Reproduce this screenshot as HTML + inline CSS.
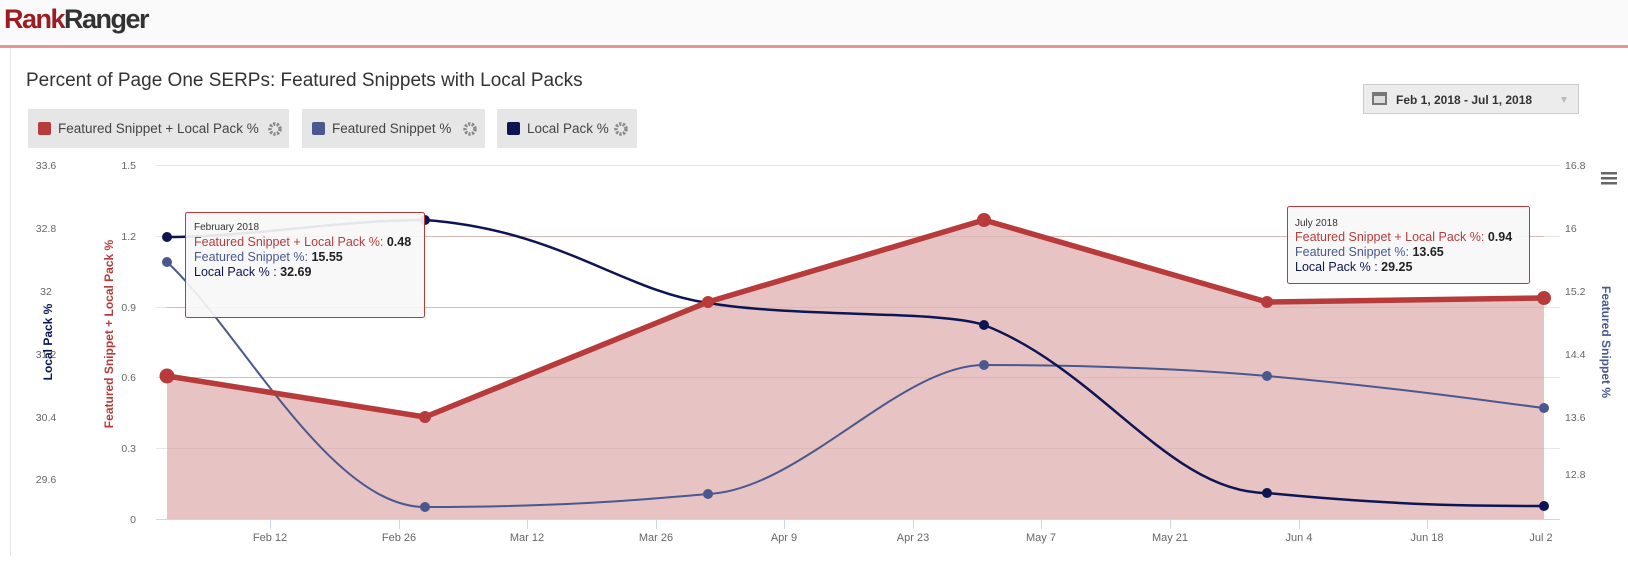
<!DOCTYPE html>
<html><head><meta charset="utf-8"><style>
body{margin:0;width:1628px;height:556px;overflow:hidden;background:#fff;font-family:"Liberation Sans",sans-serif;}
</style></head><body>
<svg width="1628" height="556" viewBox="0 0 1628 556" xmlns="http://www.w3.org/2000/svg" font-family="Liberation Sans, sans-serif">
<rect x="0" y="0" width="1628" height="46" fill="#fafafa"/>
<rect x="0" y="45" width="1628" height="3" fill="#e89595"/>
<text x="4" y="28" font-size="27" font-weight="bold" letter-spacing="-1.5"><tspan fill="#9c1c22">Rank</tspan><tspan fill="#333">Ranger</tspan></text>
<line x1="10.5" y1="48" x2="10.5" y2="556" stroke="#e6e6e6"/>
<text x="26" y="86" font-size="19" fill="#333">Percent of Page One SERPs: Featured Snippets with Local Packs</text>
<g font-size="13.5" fill="#444">
<rect x="28" y="109" width="261" height="39" fill="#e6e6e6"/>
<rect x="38" y="122" width="13" height="13" rx="2" fill="#b83b3b"/>
<text x="58" y="133">Featured Snippet + Local Pack %</text>
<circle cx="275" cy="129" r="5" fill="none" stroke="#888" stroke-width="3.5" stroke-dasharray="2.2 1.4"/>
<rect x="302" y="109" width="183" height="39" fill="#e6e6e6"/>
<rect x="312" y="122" width="13" height="13" rx="2" fill="#4a5890"/>
<text x="332" y="133">Featured Snippet %</text>
<circle cx="470" cy="129" r="5" fill="none" stroke="#888" stroke-width="3.5" stroke-dasharray="2.2 1.4"/>
<rect x="497" y="109" width="140" height="39" fill="#e6e6e6"/>
<rect x="507" y="122" width="13" height="13" rx="2" fill="#0d1554"/>
<text x="527" y="133">Local Pack %</text>
<circle cx="621" cy="129" r="5" fill="none" stroke="#888" stroke-width="3.5" stroke-dasharray="2.2 1.4"/>
</g>
<rect x="1363.5" y="84.5" width="215" height="29" fill="#ececec" stroke="#ccc"/>
<rect x="1372" y="92" width="15" height="13" fill="#777"/>
<rect x="1374" y="96" width="11" height="7" fill="#ddd"/>
<text x="1396" y="104" font-size="12" font-weight="bold" fill="#333">Feb 1, 2018 - Jul 1, 2018</text>
<path d="M1561 97 l6 0 l-3 6z" fill="#bbb"/>
<g stroke="#e6e6e6">
<line x1="156" y1="165.5" x2="1560" y2="165.5"/>
<line x1="156" y1="236.5" x2="1560" y2="236.5"/>
<line x1="156" y1="307.5" x2="1560" y2="307.5"/>
<line x1="156" y1="377.5" x2="1560" y2="377.5"/>
<line x1="156" y1="448.5" x2="1560" y2="448.5"/>
</g>
<path d="M167 376 L425 417 L708 302 L984 220 L1267 302 L1544 298 L1544 519 L167 519Z" fill="#e8c3c4"/>
<g stroke="#ddb8b9"><line x1="167" y1="448.5" x2="1544" y2="448.5"/><line x1="167" y1="377.5" x2="1544" y2="377.5"/><line x1="167" y1="307.5" x2="1544" y2="307.5"/><line x1="167" y1="236.5" x2="1544" y2="236.5"/></g>
<line x1="156" y1="519.5" x2="1560" y2="519.5" stroke="#ccd6eb"/>
<g stroke="#ccd6eb"><line x1="270.5" y1="519" x2="270.5" y2="529"/><line x1="399.5" y1="519" x2="399.5" y2="529"/><line x1="527.5" y1="519" x2="527.5" y2="529"/><line x1="656.5" y1="519" x2="656.5" y2="529"/><line x1="784.5" y1="519" x2="784.5" y2="529"/><line x1="913.5" y1="519" x2="913.5" y2="529"/><line x1="1041.5" y1="519" x2="1041.5" y2="529"/><line x1="1170.5" y1="519" x2="1170.5" y2="529"/><line x1="1299.5" y1="519" x2="1299.5" y2="529"/><line x1="1427.5" y1="519" x2="1427.5" y2="529"/></g>
<path d="M167 262 C240 330 330 507 425 507 C560 507 640 500 708 494 C800 490 900 365 984 365 C1100 365 1200 370 1267 376 C1400 388 1480 400 1544 408" fill="none" stroke="#4a5890" stroke-width="2"/>
<path d="M167 237 C250 237 340 220 425 220 C560 230 620 290 708 303 C800 318 940 310 984 325 C1100 370 1170 493 1267 493 C1400 506 1480 506 1544 506" fill="none" stroke="#0d1554" stroke-width="2.5"/>
<path d="M167 376 L425 417 L708 302 L984 220 L1267 302 L1544 298" fill="none" stroke="#b83b3b" stroke-width="5.5" stroke-linejoin="round"/>
<g fill="#4a5890"><circle cx="167" cy="262" r="5"/><circle cx="425" cy="507" r="5"/><circle cx="708" cy="494" r="5"/><circle cx="984" cy="365" r="5"/><circle cx="1267" cy="376" r="5"/><circle cx="1544" cy="408" r="5"/></g>
<g fill="#0d1554"><circle cx="167" cy="237" r="5"/><circle cx="425" cy="220" r="5"/><circle cx="708" cy="303" r="5"/><circle cx="984" cy="325" r="5"/><circle cx="1267" cy="493" r="5"/><circle cx="1544" cy="506" r="5"/></g>
<g fill="#b83b3b"><circle cx="167" cy="376" r="7.5"/><circle cx="425" cy="417" r="6"/><circle cx="708" cy="302" r="6"/><circle cx="984" cy="220" r="7"/><circle cx="1267" cy="302" r="6"/><circle cx="1544" cy="298" r="7"/></g>
<g font-size="10.5" fill="#666">
<g text-anchor="end"><text x="136" y="169">1.5</text><text x="136" y="240">1.2</text><text x="136" y="311">0.9</text><text x="136" y="381">0.6</text><text x="136" y="452">0.3</text><text x="136" y="523">0</text></g>
<g text-anchor="middle"><text x="46" y="169">33.6</text><text x="46" y="232">32.8</text><text x="46" y="295">32</text><text x="46" y="358">31.2</text><text x="46" y="421">30.4</text><text x="46" y="483">29.6</text></g>
<g><text x="1565" y="169">16.8</text><text x="1565" y="232">16</text><text x="1565" y="295">15.2</text><text x="1565" y="358">14.4</text><text x="1565" y="421">13.6</text><text x="1565" y="478">12.8</text></g>
<g text-anchor="middle" font-size="11"><text x="270" y="541">Feb 12</text><text x="399" y="541">Feb 26</text><text x="527" y="541">Mar 12</text><text x="656" y="541">Mar 26</text><text x="784" y="541">Apr 9</text><text x="913" y="541">Apr 23</text><text x="1041" y="541">May 7</text><text x="1170" y="541">May 21</text><text x="1299" y="541">Jun 4</text><text x="1427" y="541">Jun 18</text><text x="1541" y="541">Jul 2</text></g>
</g>
<text transform="translate(52,342) rotate(-90)" text-anchor="middle" font-size="12" font-weight="bold" fill="#0d1554">Local Pack %</text>
<text transform="translate(113,334) rotate(-90)" text-anchor="middle" font-size="12" font-weight="bold" fill="#b83b3b">Featured Snippet + Local Pack %</text>
<text transform="translate(1602,342) rotate(90)" text-anchor="middle" font-size="12" font-weight="bold" fill="#4a5890">Featured Snippet %</text>
<g fill="#666"><rect x="1601" y="172" width="16" height="2.5"/><rect x="1601" y="177" width="16" height="2.5"/><rect x="1601" y="182" width="16" height="2.5"/></g>
<rect x="185.5" y="212.5" width="239" height="105" rx="2" fill="#f7f7f7" fill-opacity="0.92" stroke="#b83b3b"/>
<g font-size="12.5"><text x="194" y="230" font-size="10" fill="#333">February 2018</text>
<text x="194" y="246" fill="#b83b3b">Featured Snippet + Local Pack %: <tspan font-weight="bold" fill="#222">0.48</tspan></text>
<text x="194" y="261" fill="#4a5890">Featured Snippet %: <tspan font-weight="bold" fill="#222">15.55</tspan></text>
<text x="194" y="276" fill="#0d1554">Local Pack % : <tspan font-weight="bold" fill="#222">32.69</tspan></text></g>
<rect x="1287.5" y="206.5" width="242" height="77" rx="2" fill="#f7f7f7" fill-opacity="0.92" stroke="#b83b3b"/>
<g font-size="12.5"><text x="1295" y="226" font-size="10" fill="#333">July 2018</text>
<text x="1295" y="241" fill="#b83b3b">Featured Snippet + Local Pack %: <tspan font-weight="bold" fill="#222">0.94</tspan></text>
<text x="1295" y="256" fill="#4a5890">Featured Snippet %: <tspan font-weight="bold" fill="#222">13.65</tspan></text>
<text x="1295" y="271" fill="#0d1554">Local Pack % : <tspan font-weight="bold" fill="#222">29.25</tspan></text></g>
</svg>
</body></html>
